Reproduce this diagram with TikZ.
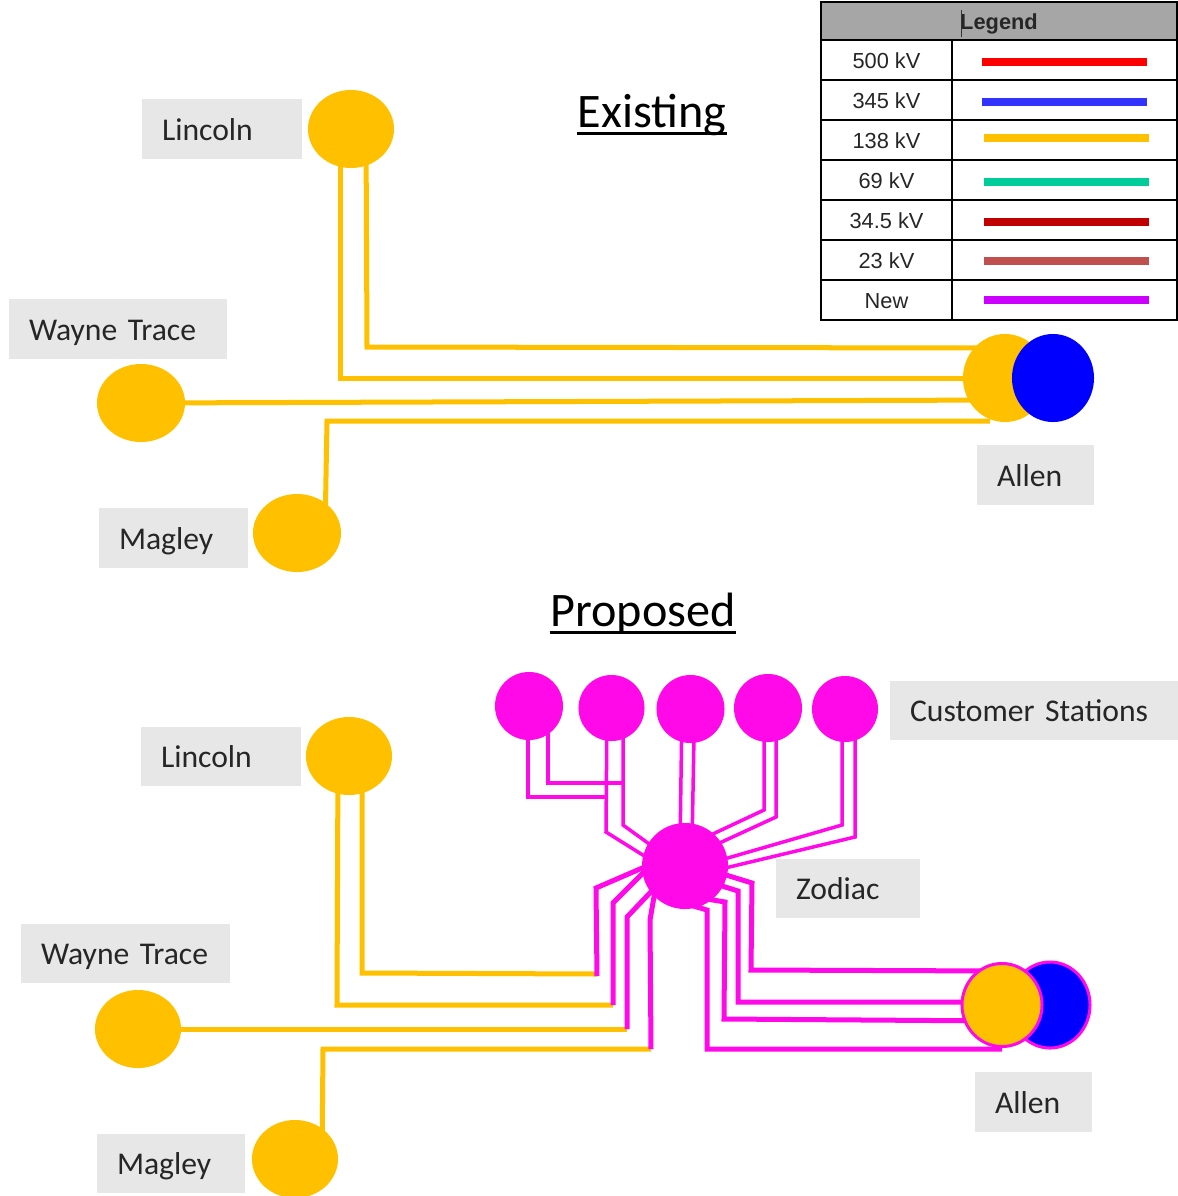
\documentclass[tikz,border=0pt]{standalone}
\usepackage{fontspec}
\setmainfont{Carlito}
\newfontfamily\legendfont{Liberation Sans}
\usetikzlibrary{calc,shapes.geometric,backgrounds}
\definecolor{busyellow}{HTML}{FFC000}
\definecolor{newpink}{HTML}{FF09E8}
\definecolor{tagfill}{HTML}{E7E7E7}
\definecolor{headfill}{HTML}{A6A6A6}
\definecolor{tagtext}{HTML}{262626}
\tikzset{
  bus/.style n args={3}{ellipse,fill=#1,inner sep=0pt,outer sep=0pt,minimum width=#2cm,minimum height=#3cm},
  tag/.style={fill=tagfill,text=tagtext,anchor=west,align=left,inner xsep=0.2cm,inner ysep=0.175cm,outer sep=0pt,
    text height=0.23cm,text depth=0.01cm,font=\fontsize{9pt}{10pt}\selectfont,text width=#1cm},
  headline/.style={font=\fontsize{13.7pt}{15pt}\selectfont,text=black,inner sep=0pt,anchor=base},
  titleline/.style={black,line width=0.03cm},
  feeder/.style={busyellow,line width=0.05cm,line join=miter},
  branch/.style={newpink,line width=0.035cm,line join=miter},
  tie/.style={newpink,line width=0.05cm,line join=miter},
  cell/.style={draw=black,line width=0.02cm,inner sep=0pt,minimum height=0.4cm,text height=0.18cm,text depth=0.02cm,
    font=\legendfont\fontsize{6.2pt}{7pt}\selectfont,text=tagtext},
  swatch/.style={inner sep=0pt,minimum width=1.64cm,minimum height=0.08cm},
}
\begin{document}
\begin{tikzpicture}[x=0.01cm,y=-0.01cm]
  \useasboundingbox (0,0) rectangle (1178,1196);

  % titles
  \node[headline] (titleExisting) at (652,127) {Existing};
  \node[headline] (titleProposed) at (643,626) {Proposed};
  \draw[titleline] ([yshift=-0.06cm]titleExisting.base west) -- ([yshift=-0.06cm]titleExisting.base east);
  \draw[titleline] ([yshift=-0.06cm]titleProposed.base west) -- ([yshift=-0.06cm]titleProposed.base east);

  % legend
  \node[cell,fill=headfill,minimum width=3.56cm,minimum height=0.38cm,font=\legendfont\bfseries\fontsize{6.2pt}{7pt}\selectfont] (legendHead) at (999,21) {Legend};
  \draw[black!80,line width=0.008cm] (961,10) -- (961,37);
  \foreach \i/\y/\kv/\col/\sx/\sy in {1/60/500 kV/red/1064.5/62,2/100/345 kV/{rgb,255:red,51;green,51;blue,255}/1064.5/102,
      3/140/138 kV/busyellow/1066.5/138,4/180/69 kV/{rgb,255:red,0;green,204;blue,153}/1066.5/182,
      5/220/34.5 kV/{rgb,255:red,192;green,0;blue,0}/1066.5/222,6/260/23 kV/{rgb,255:red,192;green,80;blue,77}/1066.5/261,
      7/300/New/{rgb,255:red,204;green,0;blue,255}/1066.5/300}{
    \node[cell,minimum width=1.31cm] (kv\i) at (886.5,\y) {\kv};
    \node[cell,minimum width=2.25cm] (kvline\i) at (1064.5,\y) {};
    \node[swatch,fill={\col}] (swatch\i) at (\sx,\sy) {};
  }

  % existing
  \node[tag=1.2] (lincolnTag) at (142,129) {Lincoln};
  \node[tag=1.78] (wayneTag) at (9,329) {Wayne Trace};
  \node[tag=1.09] (magleyTag) at (99,538) {Magley};
  \node[tag=0.77] (allenTag) at (977,475) {Allen};
  \node[bus={busyellow}{0.86}{0.78}] (lincolnA) at (351,129) {};
  \node[bus={busyellow}{0.88}{0.78}] (wayneA) at (141,403) {};
  \node[bus={busyellow}{0.88}{0.78}] (magleyA) at (297,533) {};
  \node[bus={busyellow}{0.84}{0.88}] (allenA) at (1005,378) {};
  \node[bus={blue}{0.82}{0.88}] (allenB) at (1053,378) {};

  \begin{scope}[on background layer]
    \draw[feeder] ($(lincolnA)+(-11,0)$) |- ($(allenA)+(0,0)$);
    \draw[feeder] ($(lincolnA)+(15,0)$) -- (367,347) -- ($(allenA)+(-10,-30)$);
    \draw[feeder] (wayneA) -- ($(allenA)+(0,22)$);
    \draw[feeder] ($(magleyA)+(28,0)$) -- (327,421) -- ($(allenA)+(-15,43)$);
  \end{scope}

  % proposed
  \node[tag=1.2] (lincolnTagP) at (141,756.5) {Lincoln};
  \node[tag=1.69] (wayneTagP) at (21,953.5) {Wayne Trace};
  \node[tag=1.08] (magleyTagP) at (97,1163.5) {Magley};
  \node[tag=0.77] (allenTagP) at (975,1102) {Allen};
  \node[tag=2.48] (customerTag) at (890,710.5) {Customer Stations};
  \node[tag=1.04] (zodiacTag) at (776,888.5) {Zodiac};
  \node[bus={busyellow}{0.86}{0.78}] (lincolnP) at (349,756) {};
  \node[bus={busyellow}{0.86}{0.78}] (wayneP) at (138,1029) {};
  \node[bus={busyellow}{0.86}{0.78}] (magleyP) at (295,1159) {};
  \node[bus={newpink}{0.68}{0.68}] (custA) at (529,706) {};
  \node[bus={newpink}{0.66}{0.66}] (custB) at (611.5,708) {};
  \node[bus={newpink}{0.68}{0.68}] (custC) at (690.5,709) {};
  \node[bus={newpink}{0.68}{0.68}] (custD) at (768,708) {};
  \node[bus={newpink}{0.66}{0.66}] (custE) at (845,709) {};
  \node[bus={newpink}{0.86}{0.86}] (zodiac) at (685,866) {};
  \node[bus={blue}{0.8}{0.86},draw=newpink,line width=0.03cm] (allenBP) at (1050,1005) {};
  \node[bus={busyellow}{0.8}{0.83},draw=newpink,line width=0.03cm] (allenAP) at (1002,1005) {};

  \coordinate (jointA) at (607,797);
  \coordinate (jointB) at (623,783);
  \coordinate (jointC) at (597,976);
  \coordinate (jointD) at (613,1005);
  \coordinate (jointE) at (627,1029);
  \coordinate (jointF) at (651,1049);

  \begin{scope}[on background layer]
    % customer stations
    \draw[branch] ($(custA)+(-1,0)$) -- (528,797) -- (jointA);
    \draw[branch] ($(custA)+(19,0)$) -- (548,783) -- (jointB);
    \draw[branch] ($(custB)+(-4.5,0)$) -- (606,832) -- ($(zodiac)+(-15,6)$);
    \draw[branch] ($(custB)+(11.5,0)$) -- (623,825) -- ($(zodiac)+(-15,-7)$);
    \draw[branch] ($(custC)+(-8.5,0)$) -- ($(zodiac)+(-5,-20)$);
    \draw[branch] ($(custC)+(4,0)$) -- ($(zodiac)+(7,-20)$);
    \draw[branch] ($(custD)+(-4,0)$) -- (764,810) -- ($(zodiac)+(15,-26)$);
    \draw[branch] ($(custD)+(8,0)$) -- (776,817) -- ($(zodiac)+(15,-14)$);
    \draw[branch] ($(custE)+(-3,0)$) -- (842,825) -- ($(zodiac)+(15,0)$);
    \draw[branch] ($(custE)+(10,0)$) -- (855,837) -- ($(zodiac)+(15,8)$);
    % incoming lines
    \draw[feeder] ($(lincolnP)+(13,0)$) -- (362,973) -- (jointC |- 0,974);
    \draw[feeder] ($(lincolnP)+(-11,0)$) -- (337,1005) -- (jointD);
    \draw[feeder] (wayneP) -- (jointE);
    \draw[feeder] ($(magleyP)+(27,0)$) -- (323,1049) -- (jointF);
    \draw[tie] (jointC) -- (596,888) -- ($(zodiac)+(-15,-10)$);
    \draw[tie] (jointD) -- (613,903) -- ($(zodiac)+(-25,-10)$);
    \draw[tie] (jointE) -- (627,917) -- ($(zodiac)+(-20,11)$);
    \draw[tie] (jointF) -- (650,920) -- ($(zodiac)+(-30,25)$);
    \draw[tie] ($(zodiac)+(15,1)$) -- (752,883) -- (751,970) -- ($(allenAP)+(0,-34)$);
    \draw[tie] ($(zodiac)+(15,13)$) -- (738,891) -- (738,1002) -- ($(allenAP)+(0,-3)$);
    \draw[tie] ($(zodiac)+(10,31)$) -- (725,902) -- (724,1019) -- ($(allenAP)+(0,16)$);
    \draw[tie] ($(zodiac)+(5,39)$) -- (707,910) -- (707,1049) -- ($(allenAP)+(0,44)$);
  \end{scope}
\end{tikzpicture}
\end{document}
